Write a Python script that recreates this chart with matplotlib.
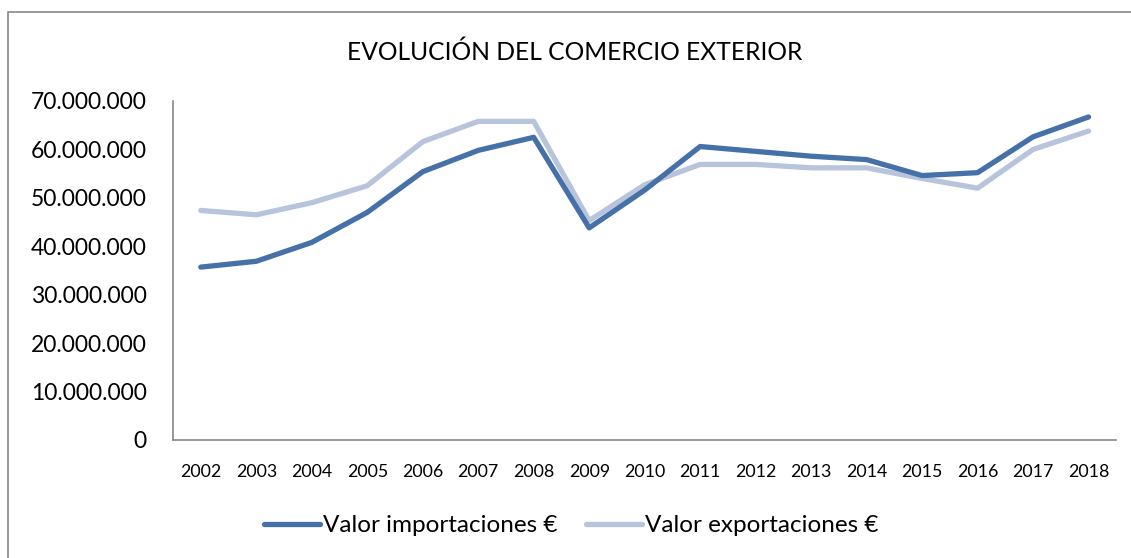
import matplotlib.pyplot as plt
from matplotlib.ticker import FuncFormatter, MultipleLocator
from matplotlib.patches import Rectangle

plt.rcParams['font.family'] = ['Lato', 'DejaVu Sans']

# data (euros)
years = ['2002', '2003', '2004', '2005', '2006', '2007', '2008', '2009', '2010',
         '2011', '2012', '2013', '2014', '2015', '2016', '2017', '2018']
importaciones = [35.7e6, 36.9e6, 40.8e6, 47.0e6, 55.4e6, 59.8e6, 62.5e6, 43.8e6, 51.6e6,
                 60.6e6, 59.6e6, 58.6e6, 57.9e6, 54.6e6, 55.2e6, 62.6e6, 66.7e6]
exportaciones = [47.4e6, 46.5e6, 49.0e6, 52.5e6, 61.6e6, 65.8e6, 65.8e6, 45.3e6, 52.7e6,
                 56.9e6, 56.9e6, 56.2e6, 56.2e6, 54.0e6, 52.0e6, 60.0e6, 63.8e6]

dark = '#4571A8'
light = '#B8C4DC'

fig = plt.figure(figsize=(11.31, 5.58), dpi=100)
ax = fig.add_axes([0.153, 0.2115, 0.834, 0.6075])

x = range(len(years))
ax.plot(x, importaciones, color=dark, lw=3.8, solid_capstyle='round',
        solid_joinstyle='round', label='Valor importaciones €', zorder=3)
ax.plot(x, exportaciones, color=light, lw=3.8, solid_capstyle='round',
        solid_joinstyle='round', label='Valor exportaciones €', zorder=2)

ax.set_xlim(-0.5, len(years) - 0.5)
ax.set_ylim(0, 70e6)
ax.yaxis.set_major_locator(MultipleLocator(10e6))
ax.yaxis.set_major_formatter(FuncFormatter(lambda v, p: f"{int(round(v)):,}".replace(",", ".")))
ax.set_xticks(list(x))
ax.set_xticklabels(years)

for s in ['top', 'right']:
    ax.spines[s].set_visible(False)
for s in ['left', 'bottom']:
    ax.spines[s].set_color('#888888')
    ax.spines[s].set_linewidth(1.2)

ax.tick_params(axis='y', length=0, pad=19, labelsize=16.5, colors='black')
ax.tick_params(axis='x', length=0, pad=17, labelsize=12.8, colors='black')

fig.text(0.508, 0.907, 'EVOLUCIÓN DEL COMERCIO EXTERIOR', ha='center', va='center', fontsize=17.7)

fig.legend(loc='center', bbox_to_anchor=(0.505, 0.058), ncol=2, frameon=False,
           fontsize=17.5, handlelength=2.3, handletextpad=0.1, columnspacing=1.2)

# chart border
fig.patches.append(Rectangle((8 / 1131, -0.05), 1.2, 1 - 12 / 558 + 0.05, transform=fig.transFigure,
                             fill=False, edgecolor='#888888', lw=1.2))

fig.savefig('out.png', dpi=100)
